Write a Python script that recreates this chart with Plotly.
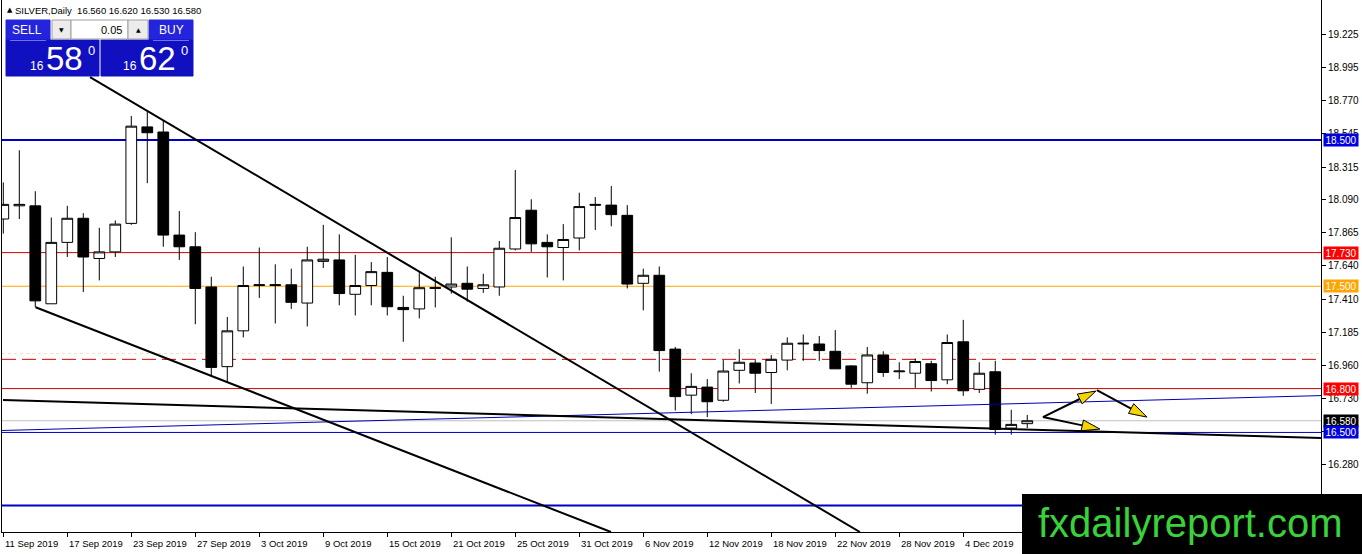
import plotly.graph_objects as go
import pandas as pd

# ---------------- data ----------------
dates = pd.bdate_range("2019-09-11", "2019-12-10")          # 65 daily bars

opens = [17.96, 18.05, 18.05, 17.38, 17.80, 17.965, 17.69, 17.735, 17.93, 18.59,
         18.555, 17.85, 17.77, 17.495, 16.95, 17.195, 17.505, 17.505, 17.51, 17.385,
         17.67, 17.68, 17.445, 17.505, 17.595, 17.355, 17.345, 17.485, 17.495, 17.52,
         17.485, 17.495, 17.755, 18.02, 17.80, 17.765, 17.83, 18.06, 18.055, 17.985,
         17.52, 17.575, 17.07, 16.755, 16.81, 16.72, 16.925, 16.975, 16.91, 16.995,
         17.105, 17.105, 17.055, 16.955, 16.84, 17.03, 16.915, 16.905, 16.97, 16.86,
         17.12, 16.795, 16.915, 16.53, 16.56]
highs = [18.21, 18.43, 18.15, 17.97, 18.05, 18.00, 17.90, 17.95, 18.665, 18.695,
         18.63, 18.015, 17.87, 17.565, 17.29, 17.635, 17.765, 17.65, 17.62, 17.77,
         17.92, 17.855, 17.715, 17.665, 17.70, 17.435, 17.60, 17.565, 17.835, 17.635,
         17.585, 17.81, 18.295, 18.095, 17.855, 17.925, 18.14, 18.11, 18.185, 18.055,
         17.62, 17.635, 17.085, 16.905, 16.865, 16.995, 17.07, 16.995, 17.03, 17.15,
         17.17, 17.16, 17.20, 16.96, 17.085, 17.055, 16.98, 17.005, 16.99, 17.17,
         17.27, 16.98, 16.99, 16.655, 16.62]
lows = [17.86, 17.96, 17.356, 17.38, 17.70, 17.46, 17.54, 17.70, 17.92, 18.205,
        17.77, 17.68, 17.24, 16.89, 16.845, 17.15, 17.42, 17.245, 17.345, 17.225,
        17.625, 17.37, 17.30, 17.37, 17.30, 17.12, 17.28, 17.355, 17.45, 17.395,
        17.455, 17.435, 17.745, 17.735, 17.56, 17.54, 17.745, 17.885, 17.91, 17.485,
        17.335, 16.916, 16.65, 16.625, 16.605, 16.71, 16.835, 16.77, 16.695, 16.925,
        16.99, 16.99, 16.935, 16.805, 16.765, 16.88, 16.865, 16.805, 16.78, 16.83,
        16.75, 16.77, 16.485, 16.485, 16.53]
closes = [18.06, 18.06, 17.40, 17.80, 17.965, 17.70, 17.735, 17.925, 18.595, 18.55,
          17.85, 17.77, 17.485, 16.945, 17.195, 17.505, 17.51, 17.51, 17.39, 17.68,
          17.685, 17.45, 17.505, 17.60, 17.36, 17.34, 17.49, 17.49, 17.515, 17.48,
          17.51, 17.76, 17.97, 17.79, 17.77, 17.82, 18.045, 18.055, 17.99, 17.515,
          17.575, 17.06, 16.745, 16.815, 16.71, 16.92, 16.98, 16.905, 17.00, 17.11,
          17.11, 17.06, 16.935, 16.83, 17.03, 16.91, 16.92, 16.985, 16.855, 17.115,
          16.785, 16.905, 16.52, 16.555, 16.58]

date_label_bars = list(range(0, 61, 4))
date_labels = [f"{dates[i].day} {dates[i]:%b %Y}" for i in date_label_bars]

y_tick_vals = [19.225, 18.995, 18.770, 18.545, 18.315, 18.090, 17.865, 17.640,
               17.410, 17.185, 16.960, 16.730, 16.505, 16.280, 16.050]

# horizontal levels
level_prices = [18.500, 17.730, 17.500, 17.040, 17.000, 16.800, 16.580, 16.500, 16.000]
level_colors = ["#0000c8", "#d00000", "#ffa500", "#eee4c4", "#d00000", "#d00000",
                "#c0c0c0", "#0000c8", "#0000c8"]
level_widths = [2, 1, 1, 1, 1, 1, 1, 1, 2]
level_dashes = ["solid", "solid", "solid", "dot", "14px,6px", "solid", "solid", "solid", "solid"]

# price labels on the right axis
box_prices = [18.500, 17.730, 17.500, 16.800, 16.580, 16.500]
box_colors = ["#0000e0", "#ff0000", "#ffa500", "#ff0000", "#000000", "#0000e0"]

# trend lines: (bar, price) pairs
trend_lines = [
    [(5.42, 18.931), (53.54, 15.819)],     # upper falling line
    [(2.02, 17.356), (37.98, 15.819)],     # lower falling line
    [(-0.02, 16.722), (82.36, 16.462)],    # flat support line
]
blue_trend = [(-0.2, 16.513), (82.36, 16.752)]

# hand-drawn arrows: start (bar, price) -> end (bar, price)
arrows = [
    [(64.98, 16.605), (68.29, 16.783)],
    [(68.35, 16.790), (71.48, 16.605)],
    [(64.98, 16.605), (68.54, 16.523)],
]

# ---------------- geometry helpers ----------------
W, H = 1362, 554
PL, PR, PT, PB = 2, 1321, 0, 532
XR = [-0.081, 82.36]
YR = [15.819, 19.458]


def PX(px):
    return (px - PL) / (PR - PL)


def PY(py):
    return 1 - (py - PT) / (PB - PT)


def d2p(k, p):
    return (PL + (k - XR[0]) / (XR[1] - XR[0]) * (PR - PL),
            PT + (YR[1] - p) / (YR[1] - YR[0]) * (PB - PT))


def p2d(px, py):
    return (XR[0] + (px - PL) / (PR - PL) * (XR[1] - XR[0]),
            YR[1] - (py - PT) / (PB - PT) * (YR[1] - YR[0]))


FONT = "Liberation Sans"
fig = go.Figure()

fig.add_trace(go.Candlestick(
    x=list(range(len(opens))), open=opens, high=highs, low=lows, close=closes,
    increasing=dict(line=dict(color="black", width=1), fillcolor="white"),
    decreasing=dict(line=dict(color="black", width=1), fillcolor="black"),
    whiskerwidth=0, hoverinfo="skip", showlegend=False))

shapes = []
annotations = []

for p, c, w, d in zip(level_prices, level_colors, level_widths, level_dashes):
    shapes.append(dict(type="line", xref="paper", yref="y", x0=0, x1=1, y0=p, y1=p,
                       line=dict(color=c, width=w, dash=d), layer="below"))

shapes.append(dict(type="line", xref="x", yref="y",
                   x0=blue_trend[0][0], y0=blue_trend[0][1],
                   x1=blue_trend[1][0], y1=blue_trend[1][1],
                   line=dict(color="#0000b0", width=1)))
for (a, b) in trend_lines:
    shapes.append(dict(type="line", xref="x", yref="y", x0=a[0], y0=a[1], x1=b[0], y1=b[1],
                       line=dict(color="black", width=2)))

# arrows: black shaft + yellow head
for (a, b) in arrows:
    ax, ay = d2p(*a)
    bx, by = d2p(*b)
    L = ((bx - ax) ** 2 + (by - ay) ** 2) ** 0.5
    ux, uy = (bx - ax) / L, (by - ay) / L
    nx, ny = -uy, ux
    hl, hw = 18, 5.5
    cx, cy = bx - hl * ux, by - hl * uy
    shapes.append(dict(type="line", xref="x", yref="y", x0=a[0], y0=a[1],
                       x1=p2d(cx, cy)[0], y1=p2d(cx, cy)[1],
                       line=dict(color="black", width=2)))
    pts = [p2d(bx, by), p2d(cx + hw * nx, cy + hw * ny), p2d(cx - hw * nx, cy - hw * ny)]
    path = "M {} {} L {} {} L {} {} Z".format(pts[0][0], pts[0][1], pts[1][0], pts[1][1],
                                               pts[2][0], pts[2][1])
    shapes.append(dict(type="path", xref="x", yref="y", path=path,
                       fillcolor="#f5d400", line=dict(color="black", width=1)))

# right-axis price boxes
for p, c in zip(box_prices, box_colors):
    annotations.append(dict(x=PX(1323), y=p, xref="paper", yref="y", xanchor="left",
                            yanchor="middle", text=f"{p:.3f}", showarrow=False,
                            bgcolor=c, width=34, height=12, borderpad=0,
                            font=dict(family=FONT, size=10, color="white")))

# date labels
for i, t in zip(date_label_bars, date_labels):
    annotations.append(dict(x=i, y=PY(543), xref="x", yref="paper", xanchor="left",
                            yanchor="middle", xshift=0, text=t, showarrow=False,
                            font=dict(family=FONT, size=9.5, color="black")))

# title line
annotations.append(dict(x=PX(5), y=PY(10), xref="paper", yref="paper", xanchor="left",
                        yanchor="middle", text="\u25b2", showarrow=False,
                        font=dict(family="DejaVu Sans", size=7, color="black")))
annotations.append(dict(x=PX(13), y=PY(10), xref="paper", yref="paper", xanchor="left",
                        yanchor="middle",
                        text="SILVER,Daily\u00a0\u00a016.560 16.620 16.530 16.580",
                        showarrow=False, font=dict(family=FONT, size=9.5, color="black")))


# one-click trading panel
def rect(x0, y0, x1, y1, fill, line=None):
    shapes.append(dict(type="rect", xref="paper", yref="paper",
                       x0=PX(x0), x1=PX(x1), y0=PY(y0), y1=PY(y1), fillcolor=fill,
                       line=dict(color=line or fill, width=1), layer="above"))


def txt(x, y, s, size, color="white", anchor="center", family=FONT):
    annotations.append(dict(x=PX(x), y=PY(y), xref="paper", yref="paper", xanchor=anchor,
                            yanchor="middle", text=s, showarrow=False,
                            font=dict(family=family, size=size, color=color)))


BLUE_TOP, BLUE = "#2424dc", "#1010c0"
rect(6, 20, 50, 40, BLUE_TOP)
rect(6, 40, 99, 76, BLUE)
rect(149, 20, 193, 40, BLUE_TOP)
rect(101, 40, 193, 76, BLUE)
rect(52, 20, 71, 39, "#ececec", "#a0a0a0")
rect(71, 20, 128, 39, "white", "#a0a0a0")
rect(128, 20, 148, 39, "#ececec", "#a0a0a0")
shapes.append(dict(type="line", xref="paper", yref="paper", x0=PX(10), x1=PX(46),
                   y0=PY(40.5), y1=PY(40.5), line=dict(color="#7070f0", width=1)))
shapes.append(dict(type="line", xref="paper", yref="paper", x0=PX(153), x1=PX(189),
                   y0=PY(40.5), y1=PY(40.5), line=dict(color="#7070f0", width=1)))
txt(27, 30, "SELL", 12)
txt(171, 30, "BUY", 12)
txt(61.5, 30, "\u25bc", 6, "black", family="DejaVu Sans")
txt(138, 29.5, "\u25b2", 6, "black", family="DejaVu Sans")
txt(124, 30, "0.05", 11, "black", "right")
txt(37, 66, "16", 12)
txt(64, 59, "58", 33)
txt(86, 51, "0", 13, anchor="left")
txt(130, 66, "16", 12)
txt(157, 59, "62", 33)
txt(179, 51, "0", 13, anchor="left")

# watermark
shapes.append(dict(type="rect", xref="paper", yref="paper", x0=PX(1022), x1=PX(1362),
                   y0=PY(494), y1=PY(556), fillcolor="black", line=dict(width=0),
                   layer="above"))
annotations.append(dict(x=PX(1190), y=PY(523), xref="paper", yref="paper",
                        xanchor="center", yanchor="middle", text="fxdailyreport.com",
                        showarrow=False,
                        font=dict(family="Liberation Sans", size=40, color="#3ad23a")))

fig.update_layout(
    width=W, height=H, autosize=False,
    margin=dict(l=PL, r=W - PR, t=PT, b=H - PB, pad=0),
    paper_bgcolor="white", plot_bgcolor="white", showlegend=False,
    boxgap=0.33, boxgroupgap=0,
    shapes=shapes, annotations=annotations,
    xaxis=dict(range=XR, showgrid=False, zeroline=False, showline=True, linecolor="black",
               linewidth=1, ticks="outside", ticklen=4, tickcolor="black",
               tickvals=date_label_bars, showticklabels=False,
               rangeslider=dict(visible=False), fixedrange=True),
    yaxis=dict(range=YR, side="right", showgrid=False, zeroline=False, showline=True,
               mirror=True, linecolor="black", linewidth=1, ticks="outside", ticklen=4,
               tickcolor="black", tickvals=y_tick_vals,
               ticktext=[f"{v:.3f}" for v in y_tick_vals],
               tickfont=dict(family=FONT, size=10, color="black"), fixedrange=True),
)

fig.write_html("out.html", config={"displayModeBar": False},
               post_script="document.body.style.margin='0';document.body.style.overflow='hidden';")
